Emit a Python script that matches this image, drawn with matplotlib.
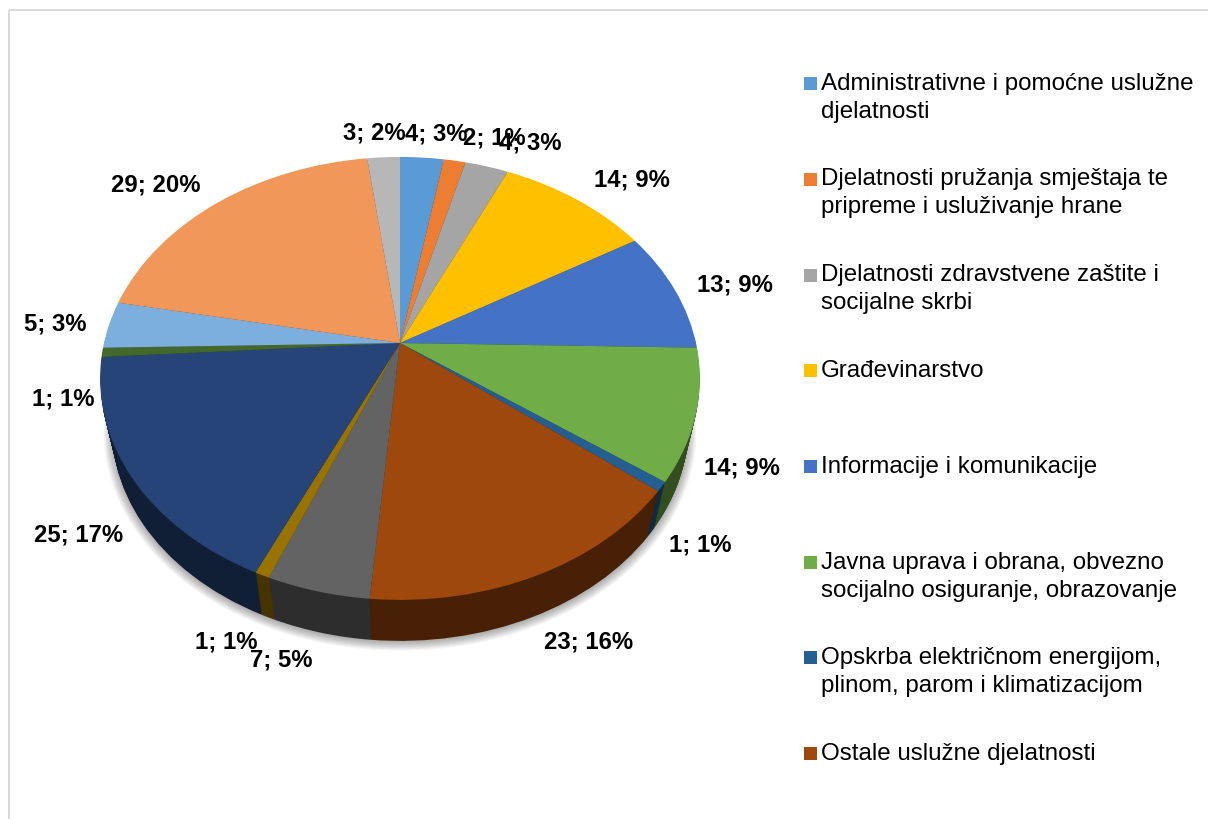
import numpy as np
import matplotlib
matplotlib.use('Agg')
import matplotlib.pyplot as plt
from matplotlib.colors import to_rgb
from matplotlib.patches import Rectangle
from matplotlib.transforms import Transform

plt.rcParams['font.family'] = ['Liberation Sans', 'DejaVu Sans']

values = [4, 2, 4, 14, 13, 14, 1, 23, 7, 1, 25, 1, 5, 29, 3]
percents = [3, 1, 3, 9, 9, 9, 1, 16, 5, 1, 17, 1, 3, 20, 2]
colors = ['#5B9BD5', '#ED7D31', '#A5A5A5', '#FFC000', '#4472C4', '#70AD47', '#255E91', '#9E480E',
          '#636363', '#997300', '#264478', '#43682B', '#7CAFDD', '#F1975A', '#B7B7B7']
legend_labels = ['Administrativne i pomoćne uslužne\ndjelatnosti',
                 'Djelatnosti pružanja smještaja te\npripreme i usluživanje hrane',
                 'Djelatnosti zdravstvene zaštite i\nsocijalne skrbi',
                 'Građevinarstvo',
                 'Informacije i komunikacije',
                 'Javna uprava i obrana, obvezno\nsocijalno osiguranje, obrazovanje',
                 'Opskrba električnom energijom,\nplinom, parom i klimatizacijom',
                 'Ostale uslužne djelatnosti']

# centres of the data labels, in image pixels
label_pos = [(436, 134), (494, 138), (530, 143), (632, 180), (735, 285), (742, 468), (700, 545),
             (589, 642), (281, 660), (226, 642), (79, 535), (63, 399), (55, 324), (156, 185), (374, 133)]
legend_baselines = [90, 185.5, 281.5, 377, 473, 568.5, 664, 760]

DEPTH = 41


class Tilt(Transform):
    # perspective view of the unit pie, gives image pixels
    # layers further down get smaller, as they are further from the eye
    input_dims = 2
    output_dims = 2

    def __init__(self, depth=0):
        super().__init__()
        self.drop = depth * 1.25
        self.scale = 1 - 0.04 * depth / DEPTH

    def transform_non_affine(self, xy):
        xy = np.asarray(xy, dtype=float)
        w = 1 + 0.16 * xy[:, 1]
        return np.column_stack([400 + self.scale * 296 * xy[:, 0] / w,
                                343 + self.drop - self.scale * 215.8 * xy[:, 1] / w])


def draw_pie(ax, vals, cols, depth, radius=1, alpha=None):
    wedges, _ = ax.pie(vals, colors=cols, startangle=90, counterclock=False, radius=radius,
                       wedgeprops={'linewidth': 0, 'alpha': alpha})
    for w in wedges:
        w.set_transform(Tilt(depth) + ax.transData)


fig = plt.figure(figsize=(12.08, 8.19), dpi=100)
ax = fig.add_axes([0, 0, 1, 1])

# soft shadow under the pie
for r in np.linspace(1.03, 1.0, 10):
    draw_pie(ax, [1], ['black'], DEPTH + 1, radius=r, alpha=0.035)

# side wall, then the top face
side_colors = [tuple(c * 0.45 for c in to_rgb(col)) for col in colors]
for d in range(DEPTH, 0, -1):
    draw_pie(ax, values, side_colors, d)
draw_pie(ax, values, colors, 0)

ax.set_aspect('auto')
ax.set_xlim(0, 1208)
ax.set_ylim(819, 0)
ax.axis('off')

# chart frame, runs off the right and bottom of the image
ax.add_patch(Rectangle((9, 10), 1300, 900, fill=False, edgecolor='#D9D9D9', linewidth=1.44))

for v, p, (x, y) in zip(values, percents, label_pos):
    ax.text(x, y, f'{v}; {p}%', fontsize=17.2, fontweight='bold', color='black', ha='center', va='center')

for label, col, y in zip(legend_labels, colors, legend_baselines):
    ax.add_patch(Rectangle((804, y - 13), 13, 13, facecolor=col, edgecolor='none'))
    for i, line in enumerate(label.split('\n')):
        ax.text(821, y + i * 28, line, fontsize=17.35, color='black', ha='left', va='baseline')

fig.savefig('out.png', dpi=100)
